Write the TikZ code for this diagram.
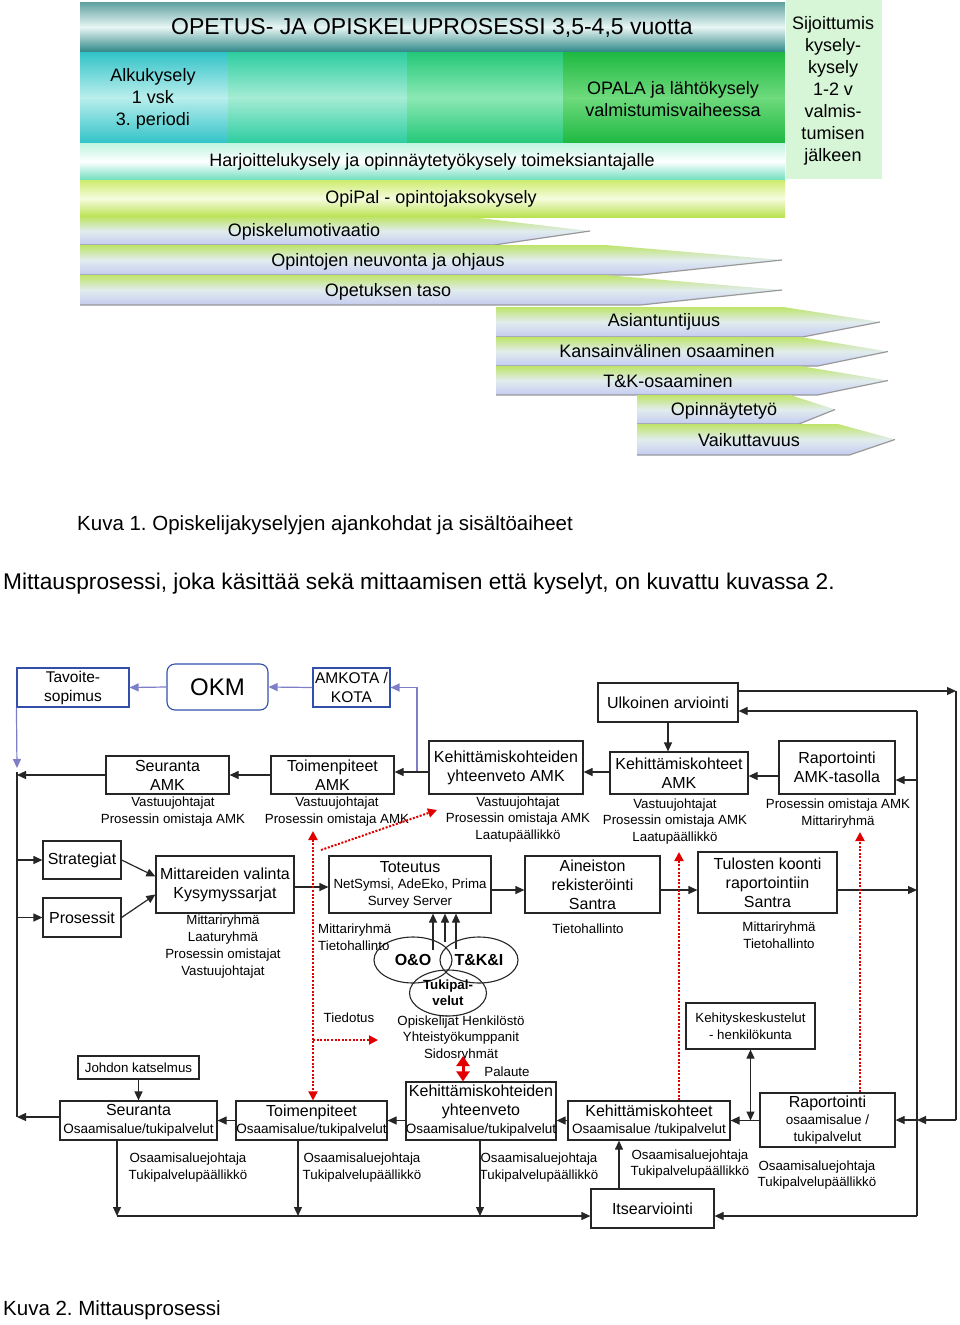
\documentclass[tikz,border=0pt]{standalone}
\usepackage{fontspec}
\setmainfont{Liberation Sans}
\usetikzlibrary{arrows.meta,shapes.geometric,calc}
\definecolor{boxblue}{RGB}{50,80,170}
\definecolor{lineblue}{RGB}{125,125,200}
\definecolor{redd}{RGB}{225,0,0}
\definecolor{tealA}{RGB}{95,160,160}
\definecolor{tealM}{RGB}{232,246,244}
\definecolor{tealB}{RGB}{45,135,135}
\definecolor{cyA}{RGB}{50,195,200}
\definecolor{cyM}{RGB}{185,238,236}
\definecolor{mnA}{RGB}{45,205,160}
\definecolor{mnM}{RGB}{165,236,212}
\definecolor{grA}{RGB}{35,200,120}
\definecolor{grM}{RGB}{140,232,180}
\definecolor{bgA}{RGB}{30,185,65}
\definecolor{bgM}{RGB}{110,218,125}
\definecolor{hA}{RGB}{190,244,224}
\definecolor{hB}{RGB}{110,222,190}
\definecolor{oA}{RGB}{205,236,110}
\definecolor{oM}{RGB}{246,252,222}
\definecolor{oB}{RGB}{185,226,80}
\definecolor{sij}{RGB}{215,245,215}
\definecolor{arA}{RGB}{190,228,105}
\definecolor{arM}{RGB}{225,236,238}
\definecolor{arB}{RGB}{196,204,240}
\newcommand{\barArrow}[5]{%
  \shade[top color=arA, bottom color=arB, middle color=arM] (#1,#4) -- (#2,#4) -- (#3,{(#4+#5)/2}) -- ({#2+0.2*(#3-#2)},#5) -- (#1,#5) -- cycle;
  \draw[black!40, line width=1.2pt] (#1,#5) -- ({#2+0.2*(#3-#2)},#5) -- (#3,{(#4+#5)/2});
}
\frenchspacing
\begin{document}
\begin{tikzpicture}[x=1pt,y=-1pt,
  bx/.style={draw=black!85,line width=1.2pt,fill=white,inner sep=0pt,align=center,text=black},
  bbx/.style={draw=boxblue,line width=1.1pt,fill=white,inner sep=0pt,align=center},
  tsix/.style={font=\fontsize{16}{19}\selectfont},
  txs/.style={inner sep=0pt,align=center,font=\fontsize{13.3}{16.7}\selectfont},
  big/.style={inner sep=0pt,align=center,font=\fontsize{18}{22}\selectfont},
  arr/.style={draw=black!85,line width=1.2pt,-{Triangle[length=9pt,width=8pt]}},
  darr/.style={draw=black!85,line width=1.2pt,{Triangle[length=9pt,width=8pt]}-{Triangle[length=9pt,width=8pt]}},
  ln/.style={draw=black!85,line width=1.2pt},
  barr/.style={draw=lineblue,line width=1.2pt,-{Triangle[length=9pt,width=8pt]}},
  rarr/.style={draw=redd,line width=2pt,dash pattern=on 2pt off 1.6pt,-{Triangle[length=9pt,width=9pt]}},
  ell/.style={ellipse,draw=black!85,line width=1.1pt,inner sep=0pt,align=center},
]
\useasboundingbox (0,0) rectangle (960,1325);
\fill[white] (0,0) rectangle (960,1325);

% ---------------- top chart ----------------
\shade[top color=tealA, bottom color=tealB, middle color=tealM] (80,2) rectangle (785,52);
\shade[top color=cyA, bottom color=cyA, middle color=cyM] (80,52) rectangle (228,143);
\shade[top color=mnA, bottom color=mnA, middle color=mnM] (228,52) rectangle (407,143);
\shade[top color=grA, bottom color=grA, middle color=grM] (407,52) rectangle (563,143);
\shade[top color=bgA, bottom color=bgA, middle color=bgM] (563,52) rectangle (785,143);
\shade[top color=hA, bottom color=hB, middle color=white] (80,143) rectangle (785,180);
\shade[top color=oA, bottom color=oB, middle color=oM] (80,180) rectangle (785,217);
\fill[sij] (786,0) rectangle (882,179);

\barArrow{80}{470}{590}{217}{245}
\barArrow{80}{605}{782}{245}{275}
\barArrow{80}{605}{782}{275}{305}
\barArrow{496}{783}{880}{307}{337}
\barArrow{496}{800}{888}{337}{366}
\barArrow{496}{800}{888}{366}{395}
\barArrow{637}{790}{835}{395}{424}
\barArrow{637}{838}{895}{424}{455}

\node[inner sep=0pt,font=\fontsize{23}{26}\selectfont] (ttl) at (432,28) {OPETUS- JA OPISKELUPROSESSI 3,5-4,5 vuotta};
\node[big] (alku) at (153,99) {Alkukysely\\1 vsk\\3. periodi};
\node[big] (opala) at (673,99) {OPALA ja lähtökysely\\valmistumisvaiheessa};
\node[big] (sijo) at (833,91) {Sijoittumis\\kysely-\\kysely\\1-2 v\\valmis-\\tumisen\\jälkeen};
\node[big] (harj) at (432,162) {Harjoittelukysely ja opinnäytetyökysely toimeksiantajalle};
\node[big] (opipal) at (431,199) {OpiPal - opintojaksokysely};
\node[big] (motiv) at (304,232) {Opiskelumotivaatio};
\node[big] (neuv) at (388,262) {Opintojen neuvonta ja ohjaus};
\node[big] (taso) at (388,292) {Opetuksen taso};
\node[big] (asian) at (664,322) {Asiantuntijuus};
\node[big] (kv) at (667,351) {Kansainvälinen osaaminen};
\node[big] (tk) at (668,381) {T\&K-osaaminen};
\node[big] (opinn) at (724,411) {Opinnäytetyö};
\node[big] (vaik) at (749,440) {Vaikuttavuus};

% ---------------- captions ----------------
\node[inner sep=0pt,anchor=west,font=\fontsize{20.5}{24}\selectfont] (kuva1) at (77,525) {Kuva 1. Opiskelijakyselyjen ajankohdat ja sisältöaiheet};
\node[inner sep=0pt,anchor=west,font=\fontsize{22.7}{26}\selectfont] (mitt1) at (3,584) {Mittausprosessi, joka käsittää sekä mittaamisen että kyselyt, on kuvattu kuvassa 2.};
\node[inner sep=0pt,anchor=west,font=\fontsize{20.5}{24}\selectfont] (kuva2) at (3,1310) {Kuva 2. Mittausprosessi};

% ---------------- lower diagram: boxes ----------------
\node[bbx, minimum width=112pt, minimum height=39pt, font=\fontsize{15.5}{19}\selectfont] (tavoite) at (73,687.5) {Tavoite-\\sopimus};
\node[bbx, rounded corners=8pt, minimum width=101pt, minimum height=46pt, font=\fontsize{24}{28}\selectfont] (okm) at (217.5,687) {OKM};
\node[bbx, minimum width=77pt, minimum height=39pt, font=\fontsize{15.5}{19}\selectfont] (amkota) at (351.5,687.5) {AMKOTA /\\KOTA};
\node[bx, tsix, minimum width=140pt, minimum height=39pt] (ulko) at (668,702.5) {Ulkoinen arviointi};
\node[bx, tsix, minimum width=123pt, minimum height=38pt] (seurAMK) at (167.5,775) {Seuranta\\AMK};
\node[bx, tsix, minimum width=123pt, minimum height=38pt] (toimAMK) at (332.5,775) {Toimenpiteet\\AMK};
\node[bx, tsix, minimum width=154pt, minimum height=53pt] (kyhtAMK) at (506,767.5) {Kehittämiskohteiden\\yhteenveto AMK};
\node[bx, tsix, minimum width=138pt, minimum height=42pt] (kkAMK) at (679,773) {Kehittämiskohteet\\AMK};
\node[bx, tsix, minimum width=116pt, minimum height=53pt] (rapAMK) at (837,767.5) {Raportointi\\AMK-tasolla};
\node[bx, tsix, minimum width=78pt, minimum height=38pt] (strat) at (82,860) {Strategiat};
\node[bx, tsix, minimum width=78pt, minimum height=39pt] (pros) at (82,917.5) {Prosessit};
\node[bx, tsix, minimum width=138pt, minimum height=57pt] (mitt) at (225,884.5) {Mittareiden valinta\\Kysymyssarjat};
\node[bx, minimum width=162pt, minimum height=57pt, font=\fontsize{13.3}{16.5}\selectfont] (tot) at (410,884.5) {{\fontsize{16}{19}\selectfont Toteutus}\\NetSymsi, AdeEko, Prima\\Survey Server};
\node[bx, tsix, minimum width=135pt, minimum height=57pt] (aine) at (592.5,884.5) {Aineiston\\rekisteröinti\\Santra};
\node[bx, tsix, minimum width=139pt, minimum height=61pt] (tulo) at (767.5,882.5) {Tulosten koonti\\raportointiin\\Santra};
\node[bx, minimum width=129pt, minimum height=46pt, font=\fontsize{13.3}{17}\selectfont] (kesk) at (750.5,1026) {Kehityskeskustelut\\- henkilökunta};
\node[bx, minimum width=121pt, minimum height=23pt, font=\fontsize{13.3}{16}\selectfont] (johdon) at (138.5,1067.5) {Johdon katselmus};
\node[bx, minimum width=157pt, minimum height=39pt, font=\fontsize{13.5}{17.5}\selectfont] (seurOs) at (138.5,1120.5) {{\fontsize{16}{19}\selectfont Seuranta}\\Osaamisalue/tukipalvelut};
\node[bx, minimum width=151pt, minimum height=39pt, font=\fontsize{13.5}{17.5}\selectfont] (toimOs) at (311.5,1120.5) {{\fontsize{16}{19}\selectfont Toimenpiteet}\\Osaamisalue/tukipalvelut};
\node[bx, minimum width=150pt, minimum height=58pt, font=\fontsize{13.5}{18.5}\selectfont] (kyhtOs) at (481,1111) {{\fontsize{16}{19}\selectfont Kehittämiskohteiden}\\{\fontsize{16}{19}\selectfont yhteenveto}\\Osaamisalue/tukipalvelut};
\node[bx, minimum width=162pt, minimum height=39pt, font=\fontsize{13.5}{17.5}\selectfont] (kkOs) at (649,1120.5) {{\fontsize{16}{19}\selectfont Kehittämiskohteet}\\Osaamisalue /tukipalvelut};
\node[bx, minimum width=135pt, minimum height=54pt, font=\fontsize{13.5}{17}\selectfont] (rapOs) at (827.5,1120) {{\fontsize{16}{19}\selectfont Raportointi}\\osaamisalue /\\tukipalvelut};
\node[bx, tsix, minimum width=123pt, minimum height=39pt] (itse) at (652.5,1208.5) {Itsearviointi};

% ellipses
\node[ell, minimum width=78pt, minimum height=46pt, font=\bfseries\fontsize{16}{19}\selectfont] (oo) at (413,960) {O\&O};
\node[ell, minimum width=78pt, minimum height=46pt, font=\bfseries\fontsize{16}{19}\selectfont] (tki) at (479,960) {T\&K\&I};
\node[ell, minimum width=77pt, minimum height=46pt, font=\bfseries\fontsize{13.3}{16}\selectfont] (tuki) at (448,993) {Tukipal-\\velut};

% texts
\node[txs] (txSeurAMK) at (173,811.5) {Vastuujohtajat\\Prosessin omistaja AMK};
\node[txs] (txToimAMK) at (337,811.5) {Vastuujohtajat\\Prosessin omistaja AMK};
\node[txs] (txKyhtAMK) at (518,819.5) {Vastuujohtajat\\Prosessin omistaja AMK\\Laatupäällikkö};
\node[txs] (txKkAMK) at (675,821.5) {Vastuujohtajat\\Prosessin omistaja AMK\\Laatupäällikkö};
\node[txs] (txRapAMK) at (838,813.5) {Prosessin omistaja AMK\\Mittariryhmä};
\node[txs] (txMitt) at (223,946.5) {Mittariryhmä\\Laaturyhmä\\Prosessin omistajat\\Vastuujohtajat};
\node[txs, align=left, anchor=west] (txMittT) at (318,937) {Mittariryhmä\\Tietohallinto};
\node[txs] (txAine) at (588,929) {Tietohallinto};
\node[txs] (txTulo) at (779,935) {Mittariryhmä\\Tietohallinto};
\node[txs] (txTied) at (349,1018) {Tiedotus};
\node[txs] (txSidos) at (461,1038.5) {Opiskelijat Henkilöstö\\Yhteistyökumppanit\\Sidosryhmät};
\node[txs] (txPal) at (507,1072) {Palaute};
\node[txs] (txSeurOs) at (188,1167.5) {Osaamisaluejohtaja\\Tukipalvelupäällikkö};
\node[txs] (txToimOs) at (362,1167.5) {Osaamisaluejohtaja\\Tukipalvelupäällikkö};
\node[txs] (txKyhtOs) at (539,1167.5) {Osaamisaluejohtaja\\Tukipalvelupäällikkö};
\node[txs] (txKkOs) at (690,1164) {Osaamisaluejohtaja\\Tukipalvelupäällikkö};
\node[txs] (txRapOs) at (817,1175) {Osaamisaluejohtaja\\Tukipalvelupäällikkö};

% ---------------- coordinates ----------------
\coordinate (LB0) at (17,768);
\coordinate (LT) at (17,772);
\coordinate (LB) at (17,1117);
\coordinate (RT) at (917,711);
\coordinate (RB) at (917,1216);
\coordinate (OT) at (956,691);
\coordinate (OB) at (956,1120);
\coordinate (row772) at (0,772);
\coordinate (row776) at (0,776);
\coordinate (row780) at (0,780);
\coordinate (row887) at (0,887);
\coordinate (row890) at (0,890);
\coordinate (BJ) at (417,772);
\coordinate (ea1) at (433,950);
\coordinate (ea2) at (445,942);
\coordinate (ea3) at (456,949);
\coordinate (BL) at (117,1216);
\coordinate (BL2) at (298,1216);
\coordinate (BL3) at (480,1216);
\coordinate (IA) at (619,1189);
\coordinate (R1t) at (313,831);
\coordinate (R1m) at (313,1040);
\coordinate (R1e) at (378,1040);
\coordinate (Rd1) at (321,850);
\coordinate (Rd2) at (437,810);
\coordinate (R2t) at (679,852);
\coordinate (R3t) at (860,832);
\coordinate (R4t) at (463,1056);

% ---------------- connectors ----------------
% blue
\draw[barr] (BJ) -- (BJ |- amkota.east) -- (amkota.east);
\draw[barr] (amkota.west) -- (okm.east);
\draw[barr] (okm.west) -- (tavoite.east);
\draw[barr] (tavoite.south west) -- (LB0);

% left column
\draw[ln] (LT) -- (LB);
\draw[arr] (seurAMK.west) -- (seurAMK.west -| LT);
\draw[arr] (strat.west -| LT) -- (strat.west);
\draw[arr] (pros.west -| LT) -- (pros.west);
\draw[arr] (LB -| seurOs.west) -- (LB);
\draw[arr] (strat.east) -- ($(mitt.west)+(0,-8)$);
\draw[arr] (pros.east) -- ($(mitt.west)+(0,10)$);

% AMK row
\draw[arr] (toimAMK.west) -- (seurAMK.east);
\draw[arr] (kyhtAMK.west |- row772) -- (toimAMK.east |- row772);
\draw[arr] (kkAMK.west |- row772) -- (kyhtAMK.east |- row772);
\draw[arr] (rapAMK.west |- row776) -- (kkAMK.east |- row776);
\draw[arr] (ulko.south) -- (ulko.south |- kkAMK.north);

% middle row
\draw[arr] (mitt.east |- row887) -- (tot.west |- row887);
\draw[arr] (tot.east |- row890) -- (aine.west |- row890);
\draw[arr] (aine.east |- row890) -- (tulo.west |- row890);
\draw[arr] (tulo.east |- row890) -- (RT |- row890);
\draw[arr] (ea1) -- (ea1 |- tot.south);
\draw[arr] (ea2) -- (ea2 |- tot.south);
\draw[arr] (ea3) -- (ea3 |- tot.south);

% right side
\draw[ln] (RT) -- (RB);
\draw[arr] (RT) -- (RT -| ulko.east);
\draw[arr] (ulko.east |- OT) -- (OT);
\draw[ln] (OT) -- (OB);
\draw[arr] (OB) -- (OB -| RT);
\draw[arr] (RT |- row780) -- (rapAMK.east |- row780);
\draw[arr] (RT |- OB) -- (rapOs.east |- OB);
\draw[arr] (RB) -- (RB -| itse.east);

% lower row
\draw[arr] (johdon.south) -- (seurOs.north);
\draw[arr] (toimOs.west) -- (seurOs.east);
\draw[arr] (kyhtOs.west |- toimOs.east) -- (toimOs.east);
\draw[arr] (kkOs.west) -- (kkOs.west -| kyhtOs.east);
\draw[arr] (rapOs.west |- kkOs.east) -- (kkOs.east);
\draw[darr] (kesk.south) -- (kesk.south |- kkOs.east);
\draw[arr] (BL |- seurOs.south) -- (BL);
\draw[arr] (BL2 |- toimOs.south) -- (BL2);
\draw[arr] (BL3 |- kyhtOs.south) -- (BL3);
\draw[arr] (BL) -- (BL -| itse.west);
\draw[arr] (IA |- itse.north) -- (IA |- kkOs.south);

% red
\draw[rarr, {Triangle[length=9pt,width=9pt]}-{Triangle[length=9pt,width=9pt]}] (R1t) -- (R1t |- toimOs.north);
\draw[rarr] (R1m) -- (R1e);
\draw[rarr] (Rd1) -- (Rd2);
\draw[rarr] (R2t |- kkOs.north) -- (R2t);
\draw[rarr] (R3t |- rapOs.north) -- (R3t);
\draw[draw=redd, line width=3pt, {Triangle[length=10pt,width=13pt]}-{Triangle[length=10pt,width=13pt]}] (R4t) -- (R4t |- kyhtOs.north);
\end{tikzpicture}
\end{document}
